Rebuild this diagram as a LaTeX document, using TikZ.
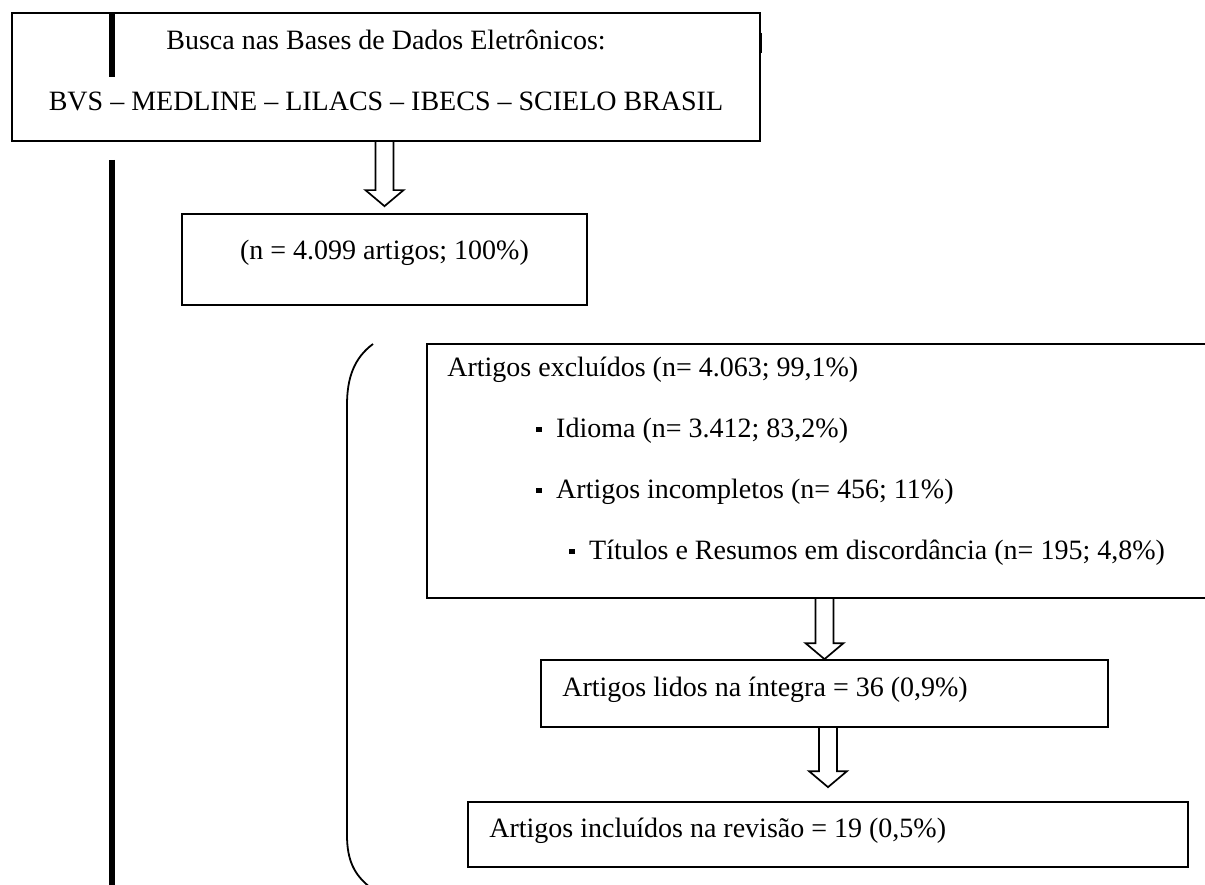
\documentclass[tikz,border=0pt]{standalone}
\usepackage{fontspec}
\setmainfont{Liberation Serif}
\usetikzlibrary{arrows.meta, calc, positioning}

% hollow block arrow: from node, to node, gap above the lower box
\newcommand\hollowarrow[3]{%
  \draw[hollow] let \p1 = (#2.north), \p2 = (#1.south) in
    (\x1-9pt,\y2) -- (\x1-9pt,\y1+#3pt+16pt) -- (\x1-19pt,\y1+#3pt+16pt)
    -- (\x1,\y1+#3pt) -- (\x1+19pt,\y1+#3pt+16pt) -- (\x1+9pt,\y1+#3pt+16pt)
    -- (\x1+9pt,\y2);}
\newcommand\sqbullet{\rule[0.17em]{0.21em}{0.21em}\hspace{0.5em}}

\begin{document}
\begin{tikzpicture}[
        x=1pt, y=-1pt,
        font=\fontsize{28}{33}\selectfont,
        base/.style = {draw, line width=1.7pt, inner sep=0pt},
        txt/.style = {inner sep=0pt, anchor=base west},
        ctxt/.style = {inner sep=0pt, anchor=base},
        hollow/.style = {line width=1.7pt, line join=miter},
        margin/.style = {line width=6.5pt},
        ]
    \useasboundingbox (0,0) rectangle (1205,885);
    \clip (0,0) rectangle (1205,885);

    % boxes
    \node [base, minimum width=748, minimum height=128] (busca) at (386,77) {};
    \node [base, minimum width=405, minimum height=91] (total) at (384.5,259.5) {};
    \node [base, minimum width=788, minimum height=254] (excl) at (821,471) {};
    \node [base, minimum width=567, minimum height=67] (lidos) at (824.5,693.5) {};
    \node [base, minimum width=720, minimum height=65] (incl) at (828,834.5) {};

    % texts
    \node [ctxt] (busca-a) at ($(busca.north)+(0,37)$) {Busca nas Bases de Dados Eletrônicos:};
    \node [ctxt] (busca-b) at ($(busca.north)+(0,98)$) {BVS – MEDLINE – LILACS – IBECS – SCIELO BRASIL};
    \node [ctxt] (total-t) at ($(total.north)+(0,46)$) {(n = 4.099 artigos; 100\%)};
    \node [txt] (excl-a) at ($(excl.north west)+(21,33)$) {Artigos excluídos (n= 4.063; 99,1\%)};
    \node [txt] (excl-b) at ($(excl.north west)+(110,94)$) {\sqbullet Idioma (n= 3.412; 83,2\%)};
    \node [txt] (excl-c) at ($(excl.north west)+(110,155)$) {\sqbullet Artigos incompletos (n= 456; 11\%)};
    \node [txt] (excl-d) at ($(excl.north west)+(143,216)$) {\sqbullet Títulos e Resumos em discordância (n= 195; 4,8\%)};
    \node [txt] (lidos-t) at ($(lidos.north west)+(22,37)$) {Artigos lidos na íntegra = 36 (0,9\%)};
    \node [txt] (incl-t) at ($(incl.north west)+(22,36)$) {Artigos incluídos na revisão = 19 (0,5\%)};

    % arrows
    \hollowarrow{busca}{total}{7}
    \hollowarrow{excl}{lidos}{0}
    \hollowarrow{lidos}{incl}{14}

    % margin rule and bracket
    \draw [margin] (112,13) -- (112,77);
    \draw [margin] (112,160) -- (112,885);
    \draw [line width=3pt] (760,33) -- (760,53);
    \draw [line width=1.8pt] (373,344) .. controls (354,358) and (347,378) .. (347,405)
        -- (347,835) .. controls (347,860) and (354,875) .. (371,888);
\end{tikzpicture}
\end{document}
